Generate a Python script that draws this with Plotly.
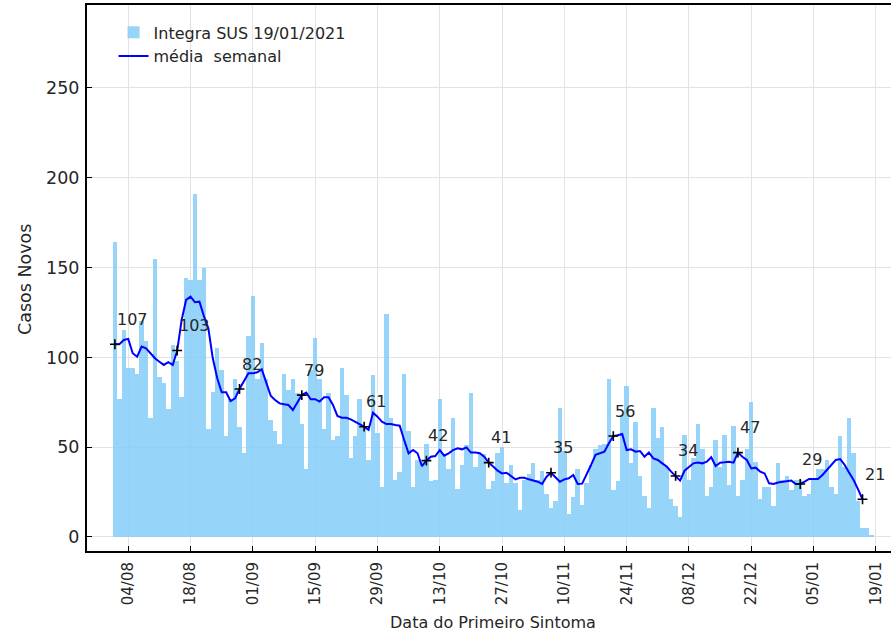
import pandas as pd
import plotly.graph_objects as go

start_date = "2020-08-01"

# daily new cases (bars), one value per day from 01/08/2020
counts = [164, 77, 115, 94, 94, 91, 120, 109, 66, 155,
          89, 86, 71, 107, 98, 78, 144, 143, 191, 143,
          150, 60, 81, 105, 93, 56, 77, 88, 61, 47,
          112, 134, 88, 108, 88, 65, 59, 52, 91, 82,
          88, 80, 63, 38, 93, 111, 88, 60, 80, 54,
          56, 94, 79, 44, 56, 77, 62, 43, 90, 58,
          28, 124, 66, 32, 36, 91, 59, 28, 43, 42,
          52, 31, 32, 77, 46, 38, 66, 27, 40, 51,
          80, 39, 46, 46, 27, 31, 47, 50, 30, 40,
          30, 15, 32, 35, 41, 32, 37, 24, 16, 20,
          72, 48, 13, 22, 38, 18, 30, 40, 49, 51,
          52, 88, 26, 31, 68, 84, 41, 64, 34, 23,
          16, 72, 55, 61, 39, 21, 17, 11, 57, 32,
          44, 63, 49, 23, 28, 54, 39, 57, 29, 62,
          23, 32, 49, 75, 42, 21, 28, 28, 17, 41,
          32, 34, 26, 32, 32, 23, 24, 33, 38, 38,
          43, 28, 24, 56, 39, 66, 47, 20, 5, 5,
          1]

# weekly moving average (line)
ma = [107.3, 107.3, 109.7, 110.3, 102.3, 100.4, 106.0, 105.0, 102.3, 99.5,
      97.6, 95.8, 97.3, 95.8, 103.8, 120.8, 132.0, 133.8, 130.7, 131.0,
      123.0, 116.2, 99.5, 88.4, 80.6, 80.6, 75.7, 77.2, 82.4, 86.9,
      91.1, 91.1, 91.7, 93.4, 85.6, 78.7, 76.3, 74.4, 73.9, 73.5,
      70.7, 75.0, 79.0, 80.4, 76.7, 76.7, 75.4, 77.8, 77.8, 73.5,
      67.4, 66.4, 66.4, 65.5, 64.2, 62.9, 61.4, 59.6, 69.2, 67.0,
      64.2, 62.9, 62.9, 62.4, 62.0, 54.0, 46.6, 48.4, 46.6, 39.5,
      42.5, 44.7, 45.1, 48.4, 45.3, 46.6, 48.4, 49.4, 48.8, 49.9,
      47.0, 47.0, 46.6, 44.7, 41.4, 39.2, 36.9, 35.4, 35.8, 34.0,
      32.1, 33.0, 33.0, 32.1, 31.4, 30.8, 29.5, 33.6, 35.8, 33.2,
      30.8, 32.1, 32.7, 34.5, 29.5, 29.7, 35.4, 40.1, 45.7, 46.6,
      47.5, 52.2, 56.2, 56.6, 57.3, 48.4, 48.8, 47.5, 47.9, 44.7,
      47.0, 43.8, 42.9, 41.0, 39.2, 36.4, 34.0, 31.4, 36.9, 39.2,
      41.0, 41.4, 41.0, 41.9, 44.4, 39.5, 41.4, 41.6, 41.9, 41.4,
      47.0, 44.7, 42.9, 38.2, 38.6, 36.4, 35.4, 29.9, 29.5, 30.3,
      30.8, 31.2, 31.4, 29.5, 29.5, 30.8, 32.3, 32.3, 32.3, 34.5,
      37.3, 39.5, 42.9, 43.4, 40.1, 35.8, 31.7, 26.5, 21.0]

# labels of the marked points (every 14 days)
mark_labels = ["107", "103", "82", "79", "61", "42", "41", "35", "56", "34", "47", "29", "21"]

tick_dates = ["2020-08-04", "2020-08-18", "2020-09-01", "2020-09-15", "2020-09-29",
              "2020-10-13", "2020-10-27", "2020-11-10", "2020-11-24", "2020-12-08",
              "2020-12-22", "2021-01-05", "2021-01-19"]
tick_labels = ["04/08", "18/08", "01/09", "15/09", "29/09", "13/10", "27/10",
               "10/11", "24/11", "08/12", "22/12", "05/01", "19/01"]

dates = pd.date_range(start_date, periods=len(counts), freq="D")
ma_dates = dates[:len(ma)]
mark_idx = list(range(0, len(ma), 14))
mark_dates = [ma_dates[i] for i in mark_idx]
mark_vals = [ma[i] for i in mark_idx]

DAY_MS = 86400000
txt = "#262626"

fig = go.Figure()
fig.add_trace(go.Bar(x=dates, y=counts, width=DAY_MS, name="Integra SUS 19/01/2021",
                     marker=dict(color="lightskyblue", line=dict(width=0)),
                     opacity=0.87))
fig.add_trace(go.Scatter(x=ma_dates, y=ma, mode="lines", name="média  semanal",
                         line=dict(color="#0000ff", width=2)))
fig.add_trace(go.Scatter(x=mark_dates, y=mark_vals, mode="markers", showlegend=False,
                         marker=dict(symbol="cross-thin", size=7,
                                     line=dict(color="black", width=1.6), color="black")))

for d, v, lab in zip(mark_dates, mark_vals, mark_labels):
    fig.add_annotation(x=d, y=v, text=lab, showarrow=False, xanchor="left", yanchor="middle",
                       xshift=0, yshift=25, font=dict(size=16, color=txt,
                                                       family="DejaVu Sans"))

x0 = pd.Timestamp(start_date) - pd.Timedelta(days=6.27)
x1 = pd.Timestamp(start_date) + pd.Timedelta(days=174.4)

fig.update_layout(
    width=891, height=635,
    margin=dict(l=87, r=0, t=5, b=84),
    paper_bgcolor="white", plot_bgcolor="white",
    font=dict(family="DejaVu Sans", color=txt),
    bargap=0,
    showlegend=True,
    legend=dict(x=0.033, y=0.981, xanchor="left", yanchor="top",
                bgcolor="rgba(255,255,255,0)", font=dict(size=16, color=txt),
                tracegroupgap=0),
    xaxis=dict(type="date", range=[x0, x1], tickmode="array",
               tickvals=tick_dates, ticktext=tick_labels, tickangle=-90,
               tickfont=dict(size=15, color=txt), ticks="inside", ticklen=5,
               tickcolor="black", showgrid=True, gridcolor="#e3e3e3", gridwidth=1,
               showline=True, linecolor="black", linewidth=2, mirror=True,
               zeroline=False, ticklabelstandoff=3, automargin=False),
    yaxis=dict(range=[-7.8, 296.2], tickmode="array", tickvals=[0, 50, 100, 150, 200, 250],
               tickfont=dict(size=17.5, color=txt), ticks="inside", ticklen=5,
               tickcolor="black", showgrid=True, gridcolor="#e3e3e3", gridwidth=1,
               showline=True, linecolor="black", linewidth=2, mirror=False,
               zeroline=False, ticklabelstandoff=2, automargin=False),
)

fig.add_annotation(text="Data do Primeiro Sintoma", xref="paper", yref="paper",
                   x=(492.5 - 87) / 804, y=(551 - 622) / 546, showarrow=False,
                   xanchor="center", yanchor="middle", font=dict(size=16, color=txt))
fig.add_annotation(text="Casos Novos", xref="paper", yref="paper",
                   x=(25 - 87) / 804, y=(551 - 280) / 546, showarrow=False, textangle=-90,
                   xanchor="center", yanchor="middle", font=dict(size=17.5, color=txt))

fig.write_html("out.html", config={"displayModeBar": False},
               post_script="document.body.style.margin='0';document.body.style.overflow='hidden';")
